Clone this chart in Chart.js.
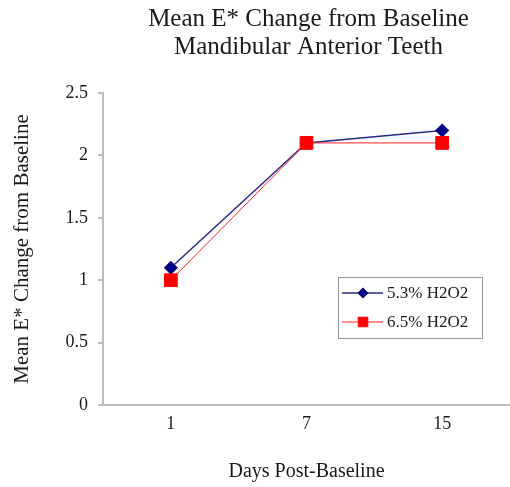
<!DOCTYPE html>
<html>
<head>
<meta charset="utf-8">
<script src="https://cdn.jsdelivr.net/npm/chart.js@4.4.0/dist/chart.umd.min.js"></script>
<style>
  html, body { margin: 0; padding: 0; background: #fff; }
  #wrap { width: 510px; height: 487px; }
</style>
</head>
<body>
<div id="wrap"><canvas id="chart" width="510" height="487"></canvas></div>
<script>
// chart data
const days = ['1', '7', '15'];
const lowConc = [1.1, 2.1, 2.2];   // 5.3% H2O2
const highConc = [1.0, 2.1, 2.1];  // 6.5% H2O2
const seriesNames = ['5.3% H2O2', '6.5% H2O2'];
const titleLines = ['Mean E* Change from Baseline', 'Mandibular Anterior Teeth'];

const SERIF = '"Liberation Serif", "DejaVu Serif", serif';
const INK = '#1a1a1a';
const AXIS = '#bdbdbd';

// title centred over the plot area, like the original
const titlePlugin = {
	id: 'plotTitle',
	afterDraw(chart){
		const {ctx, chartArea} = chart;
		const cx = (chartArea.left + chartArea.right) / 2 + 2;
		ctx.save();
		ctx.fillStyle = INK;
		ctx.font = '25px ' + SERIF;
		ctx.textAlign = 'center';
		ctx.textBaseline = 'middle';
		ctx.fillText(titleLines[0], cx, 19);
		ctx.fillText(titleLines[1], cx, 47);
		ctx.restore();
	}
};

// boxed legend inside the plot area
const boxLegend = {
	id: 'boxLegend',
	afterDraw(chart){
		const {ctx} = chart;
		const x0 = 338, y0 = 277, w = 144, h = 61;
		ctx.save();
		ctx.fillStyle = '#fff';
		ctx.fillRect(x0, y0, w, h);
		ctx.strokeStyle = '#9a9a9a';
		ctx.lineWidth = 1;
		ctx.strokeRect(x0 + 0.5, y0 + 0.5, w, h);
		chart.data.datasets.forEach((ds, i) => {
			const y = y0 + 16 + i * 29;
			ctx.strokeStyle = ds.borderColor;
			ctx.lineWidth = ds.borderWidth;
			ctx.beginPath();
			ctx.moveTo(x0 + 4, y);
			ctx.lineTo(x0 + 45, y);
			ctx.stroke();
			ctx.fillStyle = ds.pointBackgroundColor;
			ctx.strokeStyle = ds.pointBorderColor;
			Chart.helpers.drawPoint(ctx, {
				pointStyle: ds.pointStyle,
				rotation: 0,
				borderWidth: 1,
				radius: ds.pointRadius * 0.75
			}, x0 + 25, y);
			ctx.fillStyle = INK;
			ctx.font = '17px ' + SERIF;
			ctx.textAlign = 'left';
			ctx.textBaseline = 'middle';
			ctx.fillText(seriesNames[i], x0 + 49, y + 1);
		});
		ctx.restore();
	}
};

new Chart(document.getElementById('chart'), {
	type: 'line',
	data: {
		labels: days,
		datasets: [
			{
				label: seriesNames[0],
				data: lowConc,
				borderColor: '#2a2a8a',
				borderWidth: 1.5,
				pointStyle: 'rectRot',
				pointRadius: 6,
				pointBackgroundColor: '#000080',
				pointBorderColor: '#000080',
				tension: 0,
				order: 1
			},
			{
				label: seriesNames[1],
				data: highConc,
				borderColor: '#ff2020',
				borderWidth: 1,
				pointStyle: 'rect',
				pointRadius: 9,
				pointBackgroundColor: '#ff0000',
				pointBorderColor: '#ff0000',
				tension: 0,
				order: 0
			}
		]
	},
	options: {
		responsive: false,
		animation: false,
		layout: { autoPadding: false, padding: { top: 93, right: 0, left: 0, bottom: 0 } },
		plugins: {
			legend: { display: false },
			tooltip: { enabled: false }
		},
		scales: {
			x: {
				offset: true,
				grid: { display: false },
				border: { color: AXIS, width: 2 },
				ticks: { color: INK, font: { family: SERIF, size: 18 }, padding: 0 },
				title: {
					display: true,
					text: 'Days Post-Baseline',
					color: INK,
					font: { family: SERIF, size: 20 },
					padding: { top: 0, bottom: 3 }
				},
				afterFit(scale){
					scale.height = 82;
					scale.paddingLeft = 0;
					scale.paddingRight = 0;
				}
			},
			y: {
				min: 0,
				max: 2.5,
				ticks: {
					stepSize: 0.5,
					color: INK,
					font: { family: SERIF, size: 18 },
					padding: 10,
					callback: v => String(v)
				},
				grid: { drawOnChartArea: false, drawTicks: true, tickLength: 5, color: AXIS, lineWidth: 2 },
				border: { color: AXIS, width: 2 },
				title: {
					display: true,
					text: 'Mean E* Change from Baseline',
					color: INK,
					font: { family: SERIF, size: 21 },
					padding: { top: 10, bottom: 0 }
				},
				afterFit(scale){ scale.width = 103; }
			}
		}
	},
	plugins: [titlePlugin, boxLegend]
});
</script>
</body>
</html>
